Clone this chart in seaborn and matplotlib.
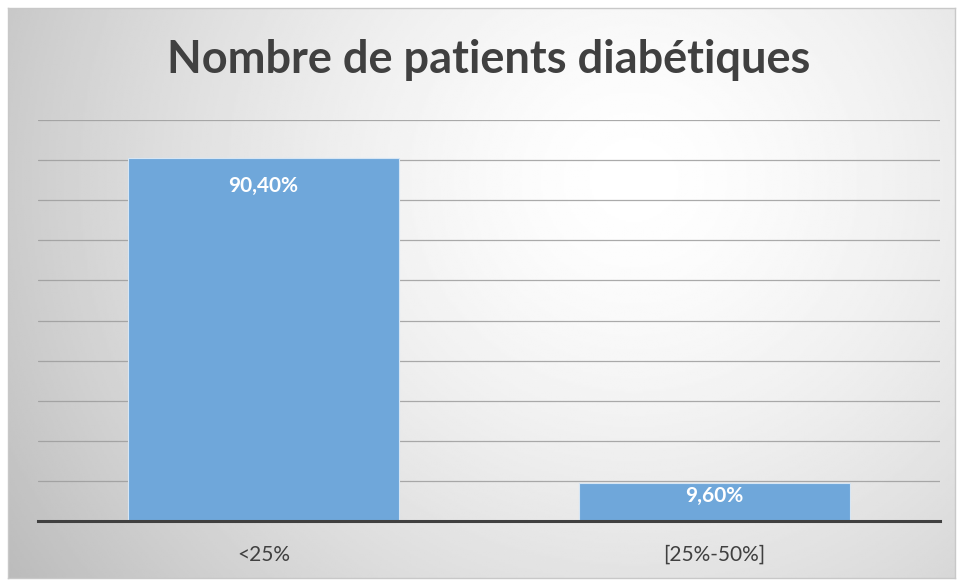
import numpy as np
import pandas as pd
import seaborn as sns
import matplotlib.pyplot as plt

# données
categories = ['<25%', '[25%-50%]']
valeurs = [90.4, 9.6]
etiquettes = ['90,40%', '9,60%']

df = pd.DataFrame({'classe': categories, 'pct': valeurs})

sns.set_style('white')
plt.rcParams['font.family'] = ['Lato', 'DejaVu Sans']

fig = plt.figure(figsize=(9.58, 5.8), dpi=100)

# fond dégradé radial (style Excel)
bg = fig.add_axes([8 / 958, 2 / 580, 947 / 958, 570 / 580], zorder=0)
h, w = 300, 500
yy, xx = np.mgrid[0:h, 0:w]
cx, cy = 0.66 * w, 0.30 * h
r = np.sqrt(((xx - cx) / (0.70 * w)) ** 2 + ((yy - cy) / (1.1 * h)) ** 2)
img = 1 - 0.22 * np.clip(r, 0, 1.2) ** 1.5
bg.imshow(img, cmap='gray', vmin=0, vmax=1, aspect='auto', extent=[0, 1, 0, 1])
bg.set_xticks([])
bg.set_yticks([])
for s in bg.spines.values():
    s.set_color('#c8c8c8')
    s.set_linewidth(1)

ax = fig.add_axes([38 / 958, 59 / 580, 902 / 958, 401 / 580], zorder=1)
ax.patch.set_alpha(0)

sns.barplot(data=df, x='classe', y='pct', color='#6FA7DA', saturation=1,
            width=0.6, edgecolor='#d6e6f5', linewidth=0.8, ax=ax, zorder=3)

ax.set_ylim(0, 100)
ax.set_xlim(-0.5, 1.5)
ax.set_yticks(np.arange(0, 101, 10))
ax.yaxis.grid(True, color='#9c9c9c', linewidth=0.9, alpha=0.85, zorder=0)
ax.set_axisbelow(True)
ax.tick_params(axis='y', length=0, labelleft=False)
ax.tick_params(axis='x', length=0, labelsize=15, labelcolor='#404040', pad=17)
ax.set_xlabel('')
ax.set_ylabel('')
for s in ['top', 'right', 'left']:
    ax.spines[s].set_visible(False)
ax.spines['bottom'].set_color('#404040')
ax.spines['bottom'].set_linewidth(2.2)
ax.spines['bottom'].set_zorder(5)

decalages = [-20, -9.5]
for i, (v, t) in enumerate(zip(valeurs, etiquettes)):
    ax.annotate(t, xy=(i, v), xytext=(0, decalages[i]), textcoords='offset points',
                ha='center', va='center', color='white', fontsize=15,
                fontweight='bold', zorder=6)

fig.text(489 / 958, 1 - 60 / 580, 'Nombre de patients diabétiques', ha='center', va='center',
         fontsize=32.5, fontweight='bold', color='#404040')

fig.savefig('out.png', dpi=100)
